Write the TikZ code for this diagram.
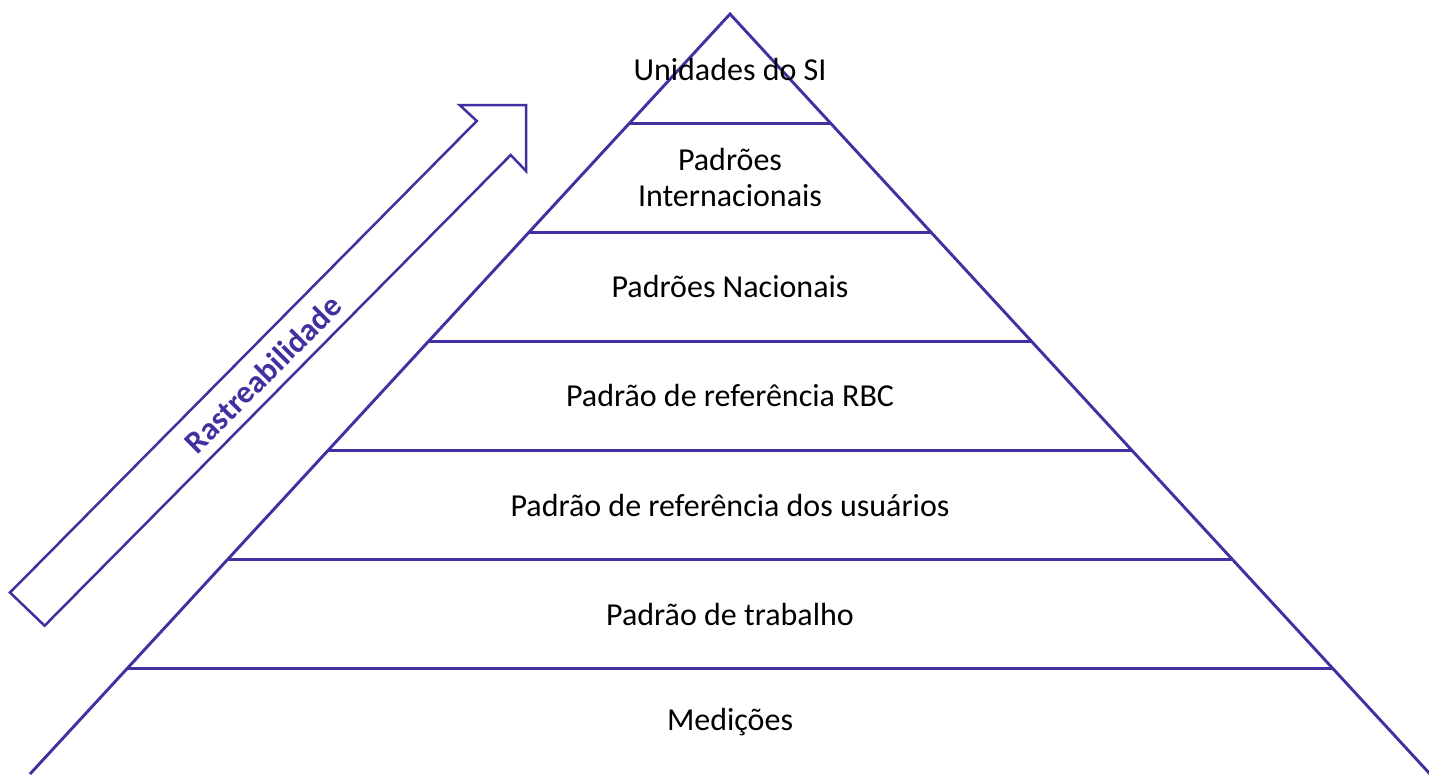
\documentclass[tikz,border=0pt]{standalone}
\usepackage{fontspec}
\setmainfont{Carlito}
\definecolor{pyr}{RGB}{64,48,160}
\begin{document}
\begin{tikzpicture}[x=1pt,y=-1pt,
  pline/.style={draw=pyr,line width=2.9pt},
  aline/.style={draw=pyr,line width=2.5pt,line join=miter},
  lbl/.style={font=\fontsize{32}{36}\selectfont,text=black,align=center,inner sep=0pt},
  alabel/.style={font=\fontsize{32}{36}\selectfont\bfseries,text=pyr,inner sep=0pt,rotate=45}]
\useasboundingbox (0,0) rectangle (1429,774);
\fill[white] (0,0) rectangle (1429,774);
% pyramid
\begin{scope}
\clip (0,0) rectangle (1429,774);
\coordinate (apex) at (730,14);
\coordinate (bl) at (30,774);
\coordinate (br) at (1430,774);
\draw[pline,line join=miter] (bl) -- (apex) -- (br);
\foreach \y in {123.5,232.75,341.8,450.7,559.6,668.6}{
  \pgfmathsetmacro{\hw}{(\y-14)*0.9206}
  \draw[pline] ({730-\hw},\y) -- ({730+\hw},\y);
}
\end{scope}
% labels
\node[lbl] (l1) at (730,70) {Unidades do SI};
\node[lbl] (l2) at (730,178) {Padrões\\Internacionais};
\node[lbl] (l3) at (730,287) {Padrões Nacionais};
\node[lbl] (l4) at (730,396) {Padrão de referência RBC};
\node[lbl] (l5) at (730,505) {Padrão de referência dos usuários};
\node[lbl] (l6) at (730,614) {Padrão de trabalho};
\node[lbl] (l7) at (730,722) {Medições};
% arrow
\coordinate (a1) at (10,592.5);
\coordinate (a2) at (44.6,625.7);
\coordinate (a3) at (510.7,155);
\coordinate (a4) at (526,171);
\coordinate (a5) at (526,105);
\coordinate (a6) at (459.6,105);
\coordinate (a7) at (476.8,121);
\draw[aline] (a1) -- (a2) -- (a3) -- (a4) -- (a5) -- (a6) -- (a7) -- cycle;
\node[alabel] (rast) at (263,374) {Rastreabilidade};
\end{tikzpicture}
\end{document}
